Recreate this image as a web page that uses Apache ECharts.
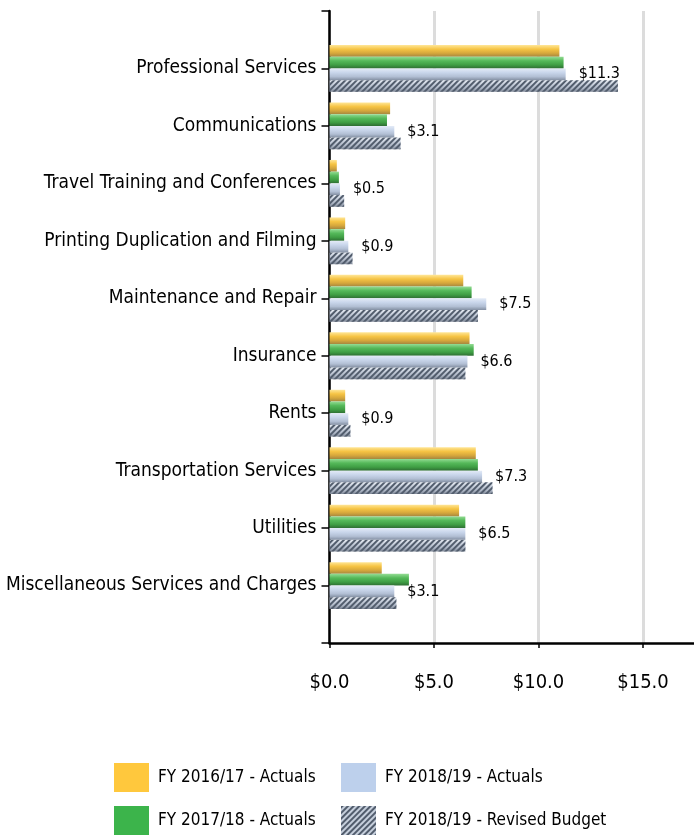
<!DOCTYPE html>
<html>
<head>
<meta charset="utf-8">
<script src="https://cdn.jsdelivr.net/npm/echarts@6/dist/echarts.min.js"></script>
<style>
  html, body { margin: 0; padding: 0; background: #fff; }
  #chart { width: 694px; height: 835px; }
</style>
</head>
<body>
<div id="chart"></div>
<script>
// categories, top to bottom
const categories = [
  'Professional Services',
  'Communications',
  'Travel Training and Conferences',
  'Printing Duplication and Filming',
  'Maintenance and Repair',
  'Insurance',
  'Rents',
  'Transportation Services',
  'Utilities',
  'Miscellaneous Services and Charges'
];

const seriesNames = [
  'FY 2016/17 - Actuals',
  'FY 2017/18 - Actuals',
  'FY 2018/19 - Actuals',
  'FY 2018/19 - Revised Budget'
];

// values in $ millions
const fy1617 = [11.0, 2.9, 0.35, 0.75, 6.4, 6.7, 0.75, 7.0, 6.2, 2.5];
const fy1718 = [11.2, 2.75, 0.45, 0.7, 6.8, 6.9, 0.75, 7.1, 6.5, 3.8];
const fy1819 = [11.3, 3.1, 0.5, 0.9, 7.5, 6.6, 0.9, 7.3, 6.5, 3.1];
const fy1819Budget = [13.8, 3.4, 0.7, 1.1, 7.1, 6.5, 1.0, 7.8, 6.5, 3.2];

const xTicks = [0, 5, 10, 15];

const FONT = "'DejaVu Sans Condensed', 'Liberation Sans Narrow', sans-serif";

// empty slot above and below the categories, like the original axis
const pad = arr => [null, ...arr, null];
const axisCats = ['', ...categories, ''];

const grad = (c0, c1, c2, c3) => new echarts.graphic.LinearGradient(0, 0, 0, 1, [
  { offset: 0, color: c0 },
  { offset: 0.35, color: c1 },
  { offset: 0.7, color: c2 },
  { offset: 1, color: c3 }
]);

const hatch = {
  symbol: 'rect',
  symbolSize: 1,
  color: '#525d6d',
  dashArrayX: [1, 0],
  dashArrayY: [2, 2],
  rotation: -Math.PI / 4
};

const chart = echarts.init(document.getElementById('chart'));

const barBase = {
  type: 'bar',
  barWidth: 11.7,
  barGap: '0%',
  silent: true
};

const legendBase = {
  orient: 'vertical',
  top: 763,
  height: 90,
  padding: 0,
  itemWidth: 35,
  itemHeight: 29,
  itemGap: 14,
  icon: 'rect',
  selectedMode: false,
  textStyle: { fontSize: 17, fontFamily: FONT, color: '#000', padding: [0, 0, 0, 4] }
};

const options = {
  animation: false,
  backgroundColor: '#fff',
  textStyle: { fontFamily: FONT, color: '#000' },
  grid: {
    left: 329.5,
    right: -53.5,
    top: 11,
    bottom: 192,
    containLabel: false,
    outerBoundsMode: 'none'
  },
  xAxis: {
    type: 'value',
    min: 0,
    max: 20,
    interval: 5,
    axisLine: { show: true, lineStyle: { color: '#000', width: 2.5 } },
    axisTick: { show: true, length: 5, lineStyle: { color: '#000', width: 1.5 } },
    axisLabel: {
      fontSize: 20,
      fontFamily: FONT,
      color: '#000',
      margin: 30,
      formatter: v => xTicks.includes(v) ? '$' + v.toFixed(1) : ''
    },
    splitLine: { show: true, lineStyle: { color: '#dcdcdc', width: 3 } }
  },
  yAxis: {
    type: 'category',
    data: axisCats,
    inverse: true,
    boundaryGap: false,
    axisLine: { show: true, lineStyle: { color: '#000', width: 2.5 } },
    axisTick: { show: true, length: 8, interval: 0, lineStyle: { color: '#000', width: 1.5 } },
    axisLabel: {
      interval: 0,
      fontSize: 19,
      fontFamily: FONT,
      color: '#000',
      margin: 13
    },
    splitLine: { show: false }
  },
  legend: [
    {
      ...legendBase,
      left: 114,
      data: [
        { name: seriesNames[0], itemStyle: { color: '#ffc83d' } },
        { name: seriesNames[1], itemStyle: { color: '#3cb44b' } }
      ]
    },
    {
      ...legendBase,
      left: 341,
      data: [
        { name: seriesNames[2], itemStyle: { color: '#bdd0ec' } },
        { name: seriesNames[3], itemStyle: { color: '#c6cfdc', decal: hatch } }
      ]
    }
  ],
  series: [
    {
      ...barBase,
      name: seriesNames[0],
      data: pad(fy1617),
      itemStyle: { color: grad('#ffe697', '#f6c444', '#d6a73c', '#a5873f') }
    },
    {
      ...barBase,
      name: seriesNames[1],
      data: pad(fy1718),
      itemStyle: { color: grad('#94dc94', '#55b95a', '#3f9e44', '#2e6e33') }
    },
    {
      ...barBase,
      name: seriesNames[2],
      data: pad(fy1819),
      itemStyle: { color: grad('#e4ebf7', '#c9d6eb', '#b2bfd4', '#838fa2') },
      label: {
        show: true,
        position: 'right',
        distance: 13,
        fontSize: 16,
        fontFamily: FONT,
        color: '#000',
        formatter: p => p.value == null ? '' : '$' + Number(p.value).toFixed(1)
      },
      z: 3
    },
    {
      ...barBase,
      name: seriesNames[3],
      data: pad(fy1819Budget),
      itemStyle: {
        color: grad('#e6ebf2', '#c6cedb', '#adb6c5', '#7c8594'),
        decal: hatch
      },
      z: 2
    }
  ]
};

chart.setOption(options);
</script>
</body>
</html>
